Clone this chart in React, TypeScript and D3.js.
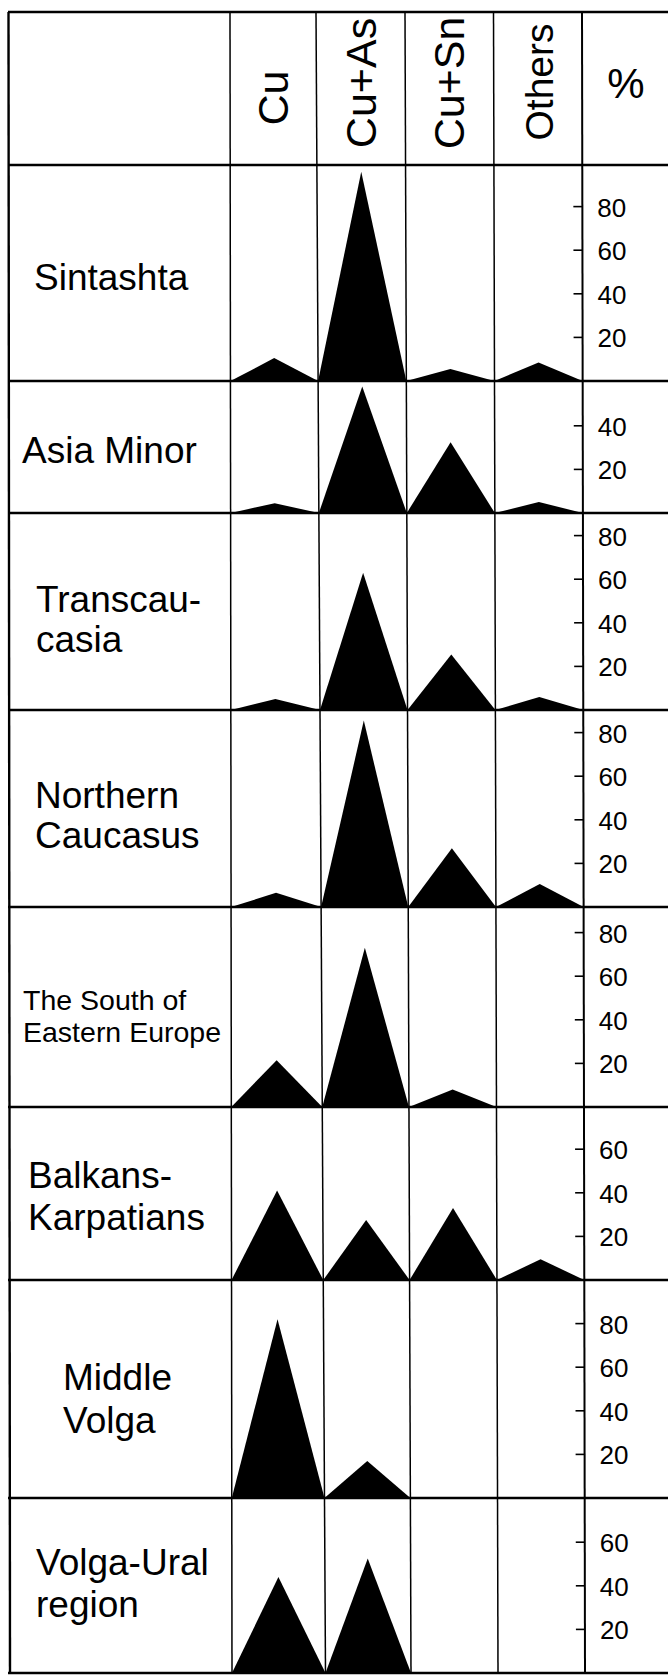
import React, { useEffect, useRef } from 'react';
import * as d3 from 'd3';

const metals = ['Cu', 'Cu+As', 'Cu+Sn', 'Others'];
const regionLabels = [
  ['Sintashta'],
  ['Asia Minor'],
  ['Transcau-', 'casia'],
  ['Northern', 'Caucasus'],
  ['The South of', 'Eastern Europe'],
  ['Balkans-', 'Karpatians'],
  ['Middle', 'Volga'],
  ['Volga-Ural', 'region'],
];
// % of finds per region, one array per metal group
const cuValues = [10.5, 4.5, 5, 6.5, 21.5, 41, 82, 44];
const cuAsValues = [96, 58, 63, 85.5, 73, 27.5, 17, 52.5];
const cuSnValues = [5.5, 32.5, 25.5, 27, 8, 33, 0, 0];
const othersValues = [8.5, 5, 6, 10.5, 0, 9.5, 0, 0];
const rowTicks = [
  [20, 40, 60, 80],
  [20, 40],
  [20, 40, 60, 80],
  [20, 40, 60, 80],
  [20, 40, 60, 80],
  [20, 40, 60],
  [20, 40, 60, 80],
  [20, 40, 60],
];

const WIDTH = 668;
const HEIGHT = 1675;

const App = () => {
  const ref = useRef<SVGSVGElement>(null);

  useEffect(() => {
    const svg = d3.select(ref.current);
    svg.selectAll('*').remove();

    const font = '"Liberation Sans", Arial, Helvetica, sans-serif';
    const top = 12;
    const bottom = 1673;
    const rowEdges = [165, 381, 513, 710, 907, 1107, 1280, 1498, 1673];
    // the column rules drift a few px to the right towards the bottom of the page
    const edgesTop = [230, 316, 405, 493.5, 582];
    const edgesBottom = [232, 325.5, 411, 498, 585];
    const drift = d3.scaleLinear().domain([top, bottom]).range([0, 1]);
    const edge = (i: number, y: number) => d3.interpolateNumber(edgesTop[i], edgesBottom[i])(drift(y));
    const series = [cuValues, cuAsValues, cuSnValues, othersValues];

    // label placement per row: x, first baseline, line gap, font size
    const labelLayout = [
      { x: 34, y: 290, gap: 0, size: 37 },
      { x: 22, y: 463, gap: 0, size: 37 },
      { x: 36, y: 612, gap: 40, size: 37 },
      { x: 35, y: 808, gap: 40, size: 37 },
      { x: 23, y: 1010, gap: 32, size: 28.5 },
      { x: 28, y: 1188, gap: 42, size: 37 },
      { x: 63, y: 1390, gap: 43, size: 37 },
      { x: 36, y: 1575, gap: 42, size: 37 },
    ];

    const grid = svg.append('g').attr('stroke', '#000').attr('fill', 'none');

    // horizontal rules
    grid.selectAll('line.h')
      .data([top, ...rowEdges])
      .enter()
      .append('line')
      .attr('class', 'h')
      .attr('x1', 8)
      .attr('x2', WIDTH)
      .attr('y1', d => d)
      .attr('y2', d => d)
      .attr('stroke-width', 2.4);

    // left border
    grid.append('line')
      .attr('x1', 8.5).attr('x2', 10)
      .attr('y1', top).attr('y2', bottom)
      .attr('stroke-width', 2.4);

    // column rules (last one doubles as the % axis)
    grid.selectAll('line.v')
      .data(d3.range(edgesTop.length))
      .enter()
      .append('line')
      .attr('class', 'v')
      .attr('x1', i => edge(i, top))
      .attr('x2', i => edge(i, bottom))
      .attr('y1', top)
      .attr('y2', bottom)
      .attr('stroke-width', i => (i === 4 ? 2 : 1.5));

    // header
    const headerY = [98, 83, 83, 82];
    const headerSize = [43, 43, 43, 39];
    svg.selectAll('text.head')
      .data(metals)
      .enter()
      .append('text')
      .attr('class', 'head')
      .attr('transform', (d, i) => {
        const cx = (edge(i, 80) + edge(i + 1, 80)) / 2 + 15;
        return `translate(${cx},${headerY[i]}) rotate(-90)`;
      })
      .attr('text-anchor', 'middle')
      .style('font-family', font)
      .style('font-size', (d, i) => `${headerSize[i]}px`)
      .text(d => d);

    svg.append('text')
      .attr('x', 626)
      .attr('y', 98)
      .attr('text-anchor', 'middle')
      .style('font-family', font)
      .style('font-size', '42px')
      .text('%');

    // rows
    regionLabels.forEach((lines, r) => {
      const y0 = rowEdges[r + 1];
      const y = d3.scaleLinear().domain([0, 100]).range([y0, y0 - 218]);
      const lay = labelLayout[r];

      const label = svg.append('text')
        .style('font-family', font)
        .style('font-size', `${lay.size}px`);
      lines.forEach((line, k) => {
        label.append('tspan')
          .attr('x', lay.x)
          .attr('y', lay.y + k * lay.gap)
          .text(line);
      });

      const line = d3.line<[number, number]>();
      series.forEach((vals, m) => {
        const v = vals[r];
        if (!v) return;
        const yp = y(v);
        const pts: [number, number][] = [
          [edge(m, y0), y0],
          [(edge(m, yp) + edge(m + 1, yp)) / 2, yp],
          [edge(m + 1, y0), y0],
        ];
        svg.append('path')
          .attr('d', line(pts) + 'Z')
          .attr('fill', '#000');
      });

      const ax = (t: number) => edge(4, y(t));
      const ticks = svg.append('g');
      ticks.selectAll('line')
        .data(rowTicks[r])
        .enter()
        .append('line')
        .attr('x1', t => ax(t) - 9)
        .attr('x2', t => ax(t))
        .attr('y1', t => y(t))
        .attr('y2', t => y(t))
        .attr('stroke', '#000')
        .attr('stroke-width', 1.6);
      ticks.selectAll('text')
        .data(rowTicks[r])
        .enter()
        .append('text')
        .attr('x', t => ax(t) + 15)
        .attr('y', t => y(t) + 10)
        .style('font-family', font)
        .style('font-size', '26px')
        .text(t => t);
    });
  }, []);

  return (
    <div style={{ position: 'absolute', left: 0, top: 0, background: '#fff' }}>
      <svg ref={ref} width={WIDTH} height={HEIGHT} style={{ display: 'block' }} />
    </div>
  );
};

export default App;
